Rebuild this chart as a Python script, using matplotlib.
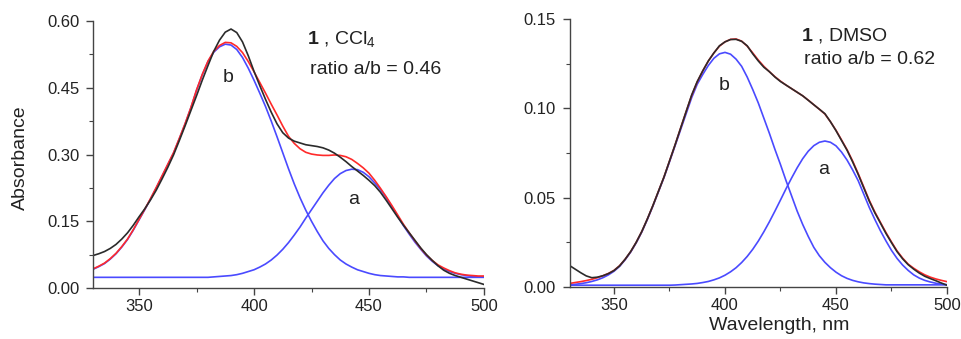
import numpy as np
import matplotlib
matplotlib.use('Agg')
import matplotlib.pyplot as plt
from matplotlib.ticker import MultipleLocator

plt.rcParams['font.family'] = ['Liberation Sans', 'DejaVu Sans']
plt.rcParams['mathtext.fontset'] = 'custom'
plt.rcParams['mathtext.rm'] = 'Liberation Sans'
plt.rcParams['mathtext.bf'] = 'Liberation Sans:bold'

# wavelength grid (nm), values read every 2.5 nm from 330 to 500
wavelength = np.arange(330, 501, 2.5)

# panel 1: compound 1 in CCl4
ccl4_measured = [0.073, 0.077, 0.082, 0.089, 0.098, 0.110, 0.124, 0.141, 0.160, 0.178,
                 0.198, 0.220, 0.245, 0.271, 0.299, 0.331, 0.364, 0.398, 0.432, 0.467,
                 0.500, 0.532, 0.557, 0.575, 0.582, 0.574, 0.553, 0.522, 0.487, 0.455,
                 0.424, 0.395, 0.369, 0.349, 0.337, 0.330, 0.326, 0.322, 0.320, 0.318,
                 0.315, 0.310, 0.303, 0.294, 0.284, 0.273, 0.263, 0.253, 0.242, 0.230,
                 0.215, 0.197, 0.178, 0.159, 0.141, 0.124, 0.107, 0.090, 0.075, 0.062,
                 0.050, 0.040, 0.033, 0.028, 0.024, 0.020, 0.016, 0.012, 0.008]
ccl4_fit = [0.043, 0.049, 0.056, 0.066, 0.078, 0.093, 0.110, 0.131, 0.154, 0.177,
            0.201, 0.226, 0.252, 0.278, 0.304, 0.336, 0.369, 0.405, 0.445, 0.480,
            0.510, 0.532, 0.545, 0.552, 0.551, 0.543, 0.529, 0.509, 0.486, 0.462,
            0.438, 0.413, 0.389, 0.364, 0.341, 0.325, 0.313, 0.305, 0.301, 0.299,
            0.298, 0.298, 0.299, 0.298, 0.295, 0.289, 0.280, 0.270, 0.258, 0.242,
            0.224, 0.205, 0.185, 0.164, 0.143, 0.124, 0.106, 0.089, 0.074, 0.062,
            0.052, 0.045, 0.039, 0.034, 0.031, 0.029, 0.028, 0.027, 0.027]
ccl4_band_b = [0.042, 0.048, 0.055, 0.065, 0.077, 0.092, 0.109, 0.130, 0.153, 0.176,
               0.200, 0.225, 0.251, 0.277, 0.303, 0.335, 0.368, 0.404, 0.444, 0.479,
               0.509, 0.530, 0.542, 0.548, 0.546, 0.536, 0.518, 0.494, 0.467, 0.438,
               0.408, 0.375, 0.340, 0.304, 0.268, 0.234, 0.203, 0.175, 0.150, 0.127,
               0.106, 0.089, 0.075, 0.063, 0.054, 0.047, 0.041, 0.037, 0.033, 0.030,
               0.028, 0.027, 0.026, 0.025, 0.025, 0.024, 0.024, 0.024, 0.024, 0.024,
               0.024, 0.024, 0.024, 0.024, 0.024, 0.024, 0.024, 0.024, 0.024]
ccl4_band_a = [0.024] * 20 + [
               0.024, 0.025, 0.026, 0.027, 0.028, 0.030, 0.033, 0.037, 0.041, 0.047,
               0.054, 0.063, 0.074, 0.087, 0.102, 0.119, 0.137, 0.157, 0.176, 0.195,
               0.214, 0.231, 0.246, 0.257, 0.264, 0.267, 0.266, 0.260, 0.250, 0.236,
               0.221, 0.203, 0.182, 0.161, 0.140, 0.121, 0.103, 0.087, 0.072, 0.060,
               0.050, 0.043, 0.037, 0.033, 0.030, 0.028, 0.026, 0.025, 0.025]

# panel 2: compound 1 in DMSO
dmso_measured = [0.0120, 0.0100, 0.0080, 0.0062, 0.0052, 0.0055, 0.0063, 0.0075, 0.0092, 0.0118,
                 0.0155, 0.0198, 0.0250, 0.0310, 0.0380, 0.0455, 0.0535, 0.0615, 0.0705, 0.0795,
                 0.0889, 0.0982, 0.1075, 0.1150, 0.1210, 0.1265, 0.1310, 0.1350, 0.1372, 0.1385,
                 0.1386, 0.1375, 0.1350, 0.1305, 0.1265, 0.1230, 0.1205, 0.1175, 0.1150, 0.1130,
                 0.1110, 0.1090, 0.1070, 0.1045, 0.1020, 0.0995, 0.0970, 0.0925, 0.0875, 0.0820,
                 0.0765, 0.0700, 0.0630, 0.0555, 0.0480, 0.0415, 0.0358, 0.0300, 0.0248, 0.0198,
                 0.0158, 0.0125, 0.0100, 0.0078, 0.0060, 0.0047, 0.0035, 0.0022, 0.0010]
dmso_fit = [0.0020, 0.0025, 0.0030, 0.0036, 0.0043, 0.0052, 0.0063, 0.0076, 0.0093, 0.0119,
            0.0155, 0.0198, 0.0250, 0.0310, 0.0380, 0.0455, 0.0535, 0.0615, 0.0705, 0.0795,
            0.0889, 0.0982, 0.1072, 0.1148, 0.1210, 0.1265, 0.1310, 0.1348, 0.1372, 0.1386,
            0.1388, 0.1376, 0.1348, 0.1310, 0.1270, 0.1235, 0.1205, 0.1177, 0.1152, 0.1130,
            0.1110, 0.1090, 0.1070, 0.1046, 0.1020, 0.0995, 0.0968, 0.0925, 0.0877, 0.0823,
            0.0768, 0.0705, 0.0635, 0.0560, 0.0485, 0.0420, 0.0362, 0.0305, 0.0252, 0.0202,
            0.0162, 0.0128, 0.0105, 0.0085, 0.0068, 0.0055, 0.0045, 0.0037, 0.0030]
dmso_band_b = [0.0012, 0.0015, 0.0019, 0.0024, 0.0031, 0.0040, 0.0052, 0.0068, 0.0088, 0.0115,
               0.0152, 0.0195, 0.0247, 0.0307, 0.0377, 0.0452, 0.0532, 0.0612, 0.0700, 0.0790,
               0.0880, 0.0970, 0.1060, 0.1135, 0.1190, 0.1240, 0.1280, 0.1305, 0.1313, 0.1303,
               0.1275, 0.1235, 0.1175, 0.1105, 0.1030, 0.0945, 0.0860, 0.0770, 0.0685, 0.0595,
               0.0510, 0.0425, 0.0350, 0.0283, 0.0222, 0.0175, 0.0138, 0.0108, 0.0083, 0.0063,
               0.0048, 0.0037, 0.0029, 0.0023, 0.0019, 0.0016, 0.0014, 0.0012, 0.0012, 0.0012,
               0.0012, 0.0012, 0.0012, 0.0012, 0.0012, 0.0012, 0.0012, 0.0012, 0.0012]
dmso_band_a = [0.0010] * 19 + [
               0.0011,
               0.0013, 0.0015, 0.0017, 0.0020, 0.0025, 0.0031, 0.0040, 0.0051, 0.0066, 0.0085,
               0.0108, 0.0137, 0.0171, 0.0211, 0.0257, 0.0309, 0.0365, 0.0425, 0.0487, 0.0550,
               0.0610, 0.0667, 0.0718, 0.0760, 0.0791, 0.0810, 0.0817, 0.0810, 0.0790, 0.0755,
               0.0710, 0.0655, 0.0595, 0.0520, 0.0445, 0.0378, 0.0315, 0.0258, 0.0205, 0.0160,
               0.0123, 0.0093, 0.0068, 0.0050, 0.0037, 0.0028, 0.0021, 0.0016, 0.0013]

panels = [
    dict(measured=ccl4_measured, fit=ccl4_fit, band_a=ccl4_band_a, band_b=ccl4_band_b,
         ymax=0.60, major=0.15, minor=0.075,
         title=r'$\mathbf{1}$ , CCl$_4$', ratio='ratio a/b = 0.46',
         title_xy=(423, 0.557), ratio_xy=(424.3, 0.490),
         b_xy=(388.7, 0.472), a_xy=(443.5, 0.200),
         rect=[0.0967, 0.1504, 0.4064, 0.7876]),
    dict(measured=dmso_measured, fit=dmso_fit, band_a=dmso_band_a, band_b=dmso_band_b,
         ymax=0.15, major=0.05, minor=0.025,
         title=r'$\mathbf{1}$ , DMSO', ratio='ratio a/b = 0.62',
         title_xy=(434.2, 0.1405), ratio_xy=(435.6, 0.1275),
         b_xy=(399.5, 0.113), a_xy=(444.6, 0.066),
         rect=[0.5921, 0.1534, 0.3923, 0.7906]),
]

fig = plt.figure(figsize=(9.62, 3.39), dpi=100)
txt_color = '#222222'
axis_color = '#444444'

for p in panels:
    ax = fig.add_axes(p['rect'])
    ax.plot(wavelength, p['band_b'], color='#4a4aff', lw=1.2)
    ax.plot(wavelength, p['band_a'], color='#4a4aff', lw=1.2)
    ax.plot(wavelength, p['fit'], color='#ff2a2a', lw=1.2)
    ax.plot(wavelength, p['measured'], color='#2b2b2b', lw=1.2)

    ax.set_xlim(330, 500)
    ax.set_ylim(0, p['ymax'])
    ax.xaxis.set_major_locator(MultipleLocator(50))
    ax.xaxis.set_minor_locator(MultipleLocator(25))
    ax.yaxis.set_major_locator(MultipleLocator(p['major']))
    ax.yaxis.set_minor_locator(MultipleLocator(p['minor']))
    ax.yaxis.set_major_formatter(plt.FormatStrFormatter('%.2f'))

    for side in ['top', 'right']:
        ax.spines[side].set_visible(False)
    for side in ['left', 'bottom']:
        ax.spines[side].set_color(axis_color)
        ax.spines[side].set_linewidth(1.0)
    ax.tick_params(which='major', direction='out', length=5, width=1.0,
                   color=axis_color, labelsize=12, labelcolor=txt_color, pad=3)
    ax.tick_params(which='minor', direction='out', length=3, width=0.8, color=axis_color)
    ax.tick_params(axis='y', pad=5)

    ax.text(*p['title_xy'], p['title'], fontsize=14, color=txt_color, va='center', ha='left')
    ax.text(*p['ratio_xy'], p['ratio'], fontsize=14, color=txt_color, va='center', ha='left')
    ax.text(*p['b_xy'], 'b', fontsize=14, color=txt_color, va='center', ha='center')
    ax.text(*p['a_xy'], 'a', fontsize=14, color=txt_color, va='center', ha='center')

fig.text(20 / 962, 1 - 158 / 339, 'Absorbance', rotation=90, fontsize=14,
         color=txt_color, ha='center', va='center')
fig.text(779 / 962, 1 - 326 / 339, 'Wavelength, nm', fontsize=14,
         color=txt_color, ha='center', va='center')

fig.savefig('out.png', dpi=100)
